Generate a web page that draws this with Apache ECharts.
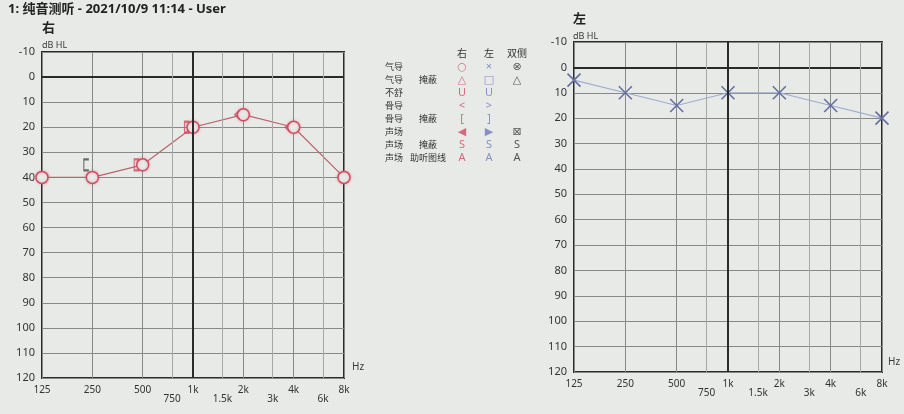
<!DOCTYPE html>
<html>
<head>
<meta charset="utf-8">
<style>
  html, body { margin:0; padding:0; background:#e8eae8; }
  #chart { width:904px; height:414px; }
</style>
<script src="https://cdn.jsdelivr.net/npm/echarts@6.0.0/dist/echarts.min.js"></script>
</head>
<body>
<div id="chart"></div>
<script>
/* Pure-tone audiogram, right ear (red circles) and left ear (blue crosses).
   Frequency runs on an octave scale, dB HL grows downward. */
(function(){
  var FREQS        = [125, 250, 500, 1000, 2000, 4000, 8000];
  var FREQ_LABELS  = ['125', '250', '500', '1k', '2k', '4k', '8k'];
  var HALF_FREQS   = [750, 1500, 3000, 6000];
  var HALF_LABELS  = ['750', '1.5k', '3k', '6k'];

  var RIGHT_AIR         = [40, 40, 35, 20, 15, 20, 40];
  var RIGHT_BONE_FREQS  = [250, 500, 1000];     // masked bone "["
  var RIGHT_BONE        = [35, 35, 20];
  var RIGHT_BONE2_FREQS = [2000, 4000];         // bone "<"
  var RIGHT_BONE2       = [15, 20];
  var LEFT_AIR          = [5, 10, 15, 10, 10, 15, 20];

  var DB_MIN = -10, DB_MAX = 120, DB_STEP = 10;

  var LEGEND_ROWS  = [['气导',''],['气导','掩蔽'],['不舒',''],['骨导',''],['骨导','掩蔽'],['声场',''],['声场','掩蔽'],['声场','助听图线']];
  var LEGEND_RIGHT = ['○','△','U','<','[','◀','S','A'];
  var LEGEND_LEFT  = ['×','□','U','>',']','▶','S','A'];
  var LEGEND_BOTH  = ['⊗','△','','','','⊠','S','A'];

  var FONT = "'Noto Sans', 'DejaVu Sans', 'Noto Sans CJK SC', sans-serif";
  var BG = '#e8eae8';
  var RED = '#cc4e60', RED_LINE = '#b8666d';
  var BLUE = '#66709f', BLUE_LINE = '#9cadd0';
  var GRIDC = '#878988', HALFC = '#a6a8a7', DARK = '#2a2a2a';

  function oct(f){ return Math.log2(f / FREQS[0]); }
  var XMAX = oct(FREQS[FREQS.length - 1]);

  function xAxes(gi){
    return [{
      gridIndex:gi, type:'value', min:0, max:XMAX, interval:1,
      axisLine:{show:false}, axisTick:{show:false},
      splitLine:{show:true, lineStyle:{color:GRIDC, width:1}},
      axisLabel:{ margin:7, fontSize:10, color:'#333', fontFamily:FONT,
        formatter:function(v){ return FREQ_LABELS[Math.round(v)] || ''; } }
    },{
      gridIndex:gi, type:'value', min:0, max:XMAX, position:'bottom',
      axisLine:{show:false}, axisTick:{show:false}, splitLine:{show:false},
      axisLabel:{ margin:16, fontSize:10, color:'#333', fontFamily:FONT,
        customValues:HALF_FREQS.map(oct),
        formatter:function(v){
          for(var i=0;i<HALF_FREQS.length;i++){ if(Math.abs(oct(HALF_FREQS[i]) - v) < 1e-6) return HALF_LABELS[i]; }
          return '';
        } }
    }];
  }

  function yAxis(gi){
    return {
      gridIndex:gi, type:'value', inverse:true, min:DB_MIN, max:DB_MAX, interval:DB_STEP,
      axisLine:{show:false}, axisTick:{show:false},
      splitLine:{show:true, lineStyle:{color:GRIDC, width:1}},
      axisLabel:{ margin:7, fontSize:11, color:'#333', fontFamily:FONT }
    };
  }

  function gridLines(xi, yi){
    var thick = {color:DARK, width:2, type:'solid'};
    var data = [{yAxis:0, lineStyle:thick}, {xAxis:oct(1000), lineStyle:thick}];
    HALF_FREQS.forEach(function(f){ data.push({xAxis:oct(f), lineStyle:{color:HALFC, width:1, type:'solid'}}); });
    return {
      type:'line', xAxisIndex:xi, yAxisIndex:yi, data:[], z:1, silent:true,
      markLine:{ silent:true, symbol:['none','none'], label:{show:false}, animation:false, data:data }
    };
  }

  function pts(freqs, vals){ return freqs.map(function(f, i){ return [oct(f), vals[i]]; }); }

  var X_PATH = 'path://M0,0L10,10M10,0L0,10';
  var BRACKET_PATH = 'path://M4,0L0,0L0,10L4,10';
  var LT_PATH = 'path://M5,0L0,5L5,10';

  var bracketData = pts(RIGHT_BONE_FREQS, RIGHT_BONE).map(function(p, i){
    var item = {value:p};
    if(RIGHT_BONE_FREQS[i] === 250) item.itemStyle = {borderColor:'#4a4a4a'};
    return item;
  });

  var graphic = [
    {type:'text', left:8, top:3, style:{text:'1: 纯音测听 - 2021/10/9 11:14 - User', font:'bold 13px '+FONT, fill:'#222'}},
    {type:'text', left:42, top:22, style:{text:'右', font:'bold 13px '+FONT, fill:'#222'}},
    {type:'text', left:573, top:13, style:{text:'左', font:'bold 13px '+FONT, fill:'#222'}},
    {type:'text', left:42, top:41, style:{text:'dB HL', font:'9px '+FONT, fill:'#3a3a3a'}},
    {type:'text', left:573, top:32, style:{text:'dB HL', font:'9px '+FONT, fill:'#3a3a3a'}},
    {type:'text', left:352, top:362, style:{text:'Hz', font:'10px '+FONT, fill:'#3a3a3a'}},
    {type:'text', left:888, top:357, style:{text:'Hz', font:'10px '+FONT, fill:'#3a3a3a'}}
  ];

  var LX = 385, LX2 = 428, CR = 462, CL = 489, CB = 517, HY = 54, RY0 = 67, RDY = 13;
  function ltxt(x, y, t, color, size, align){
    return {type:'text', x:x, y:y, style:{text:t, font:(size||9)+'px '+FONT, fill:color||'#333',
      align:align||'center', verticalAlign:'middle'}};
  }
  graphic.push(ltxt(CR, HY, '右', '#333', 10), ltxt(CL, HY, '左', '#333', 10), ltxt(CB, HY, '双侧', '#333', 10));
  LEGEND_ROWS.forEach(function(r, i){
    var y = RY0 + i * RDY;
    graphic.push(ltxt(LX, y, r[0], '#333', 9, 'left'));
    if(r[1]) graphic.push(ltxt(LX2, y, r[1], '#333', 9));
    graphic.push(ltxt(CR, y, LEGEND_RIGHT[i], '#d46a7a', 11));
    graphic.push(ltxt(CL, y, LEGEND_LEFT[i], '#8690c4', 11));
    if(LEGEND_BOTH[i]) graphic.push(ltxt(CB, y, LEGEND_BOTH[i], '#555', 11));
  });

  var chart = echarts.init(document.getElementById('chart'), null, {renderer:'canvas'});
  chart.setOption({
    backgroundColor:BG,
    animation:false,
    grid:[
      {left:42, top:52, right:560, bottom:36, show:true, borderColor:DARK, borderWidth:2, backgroundColor:'transparent'},
      {left:574, top:42, right:22, bottom:42, show:true, borderColor:DARK, borderWidth:2, backgroundColor:'transparent'}
    ],
    xAxis: xAxes(0).concat(xAxes(1)),
    yAxis: [yAxis(0), yAxis(1)],
    graphic: graphic,
    series:[
      gridLines(0, 0),
      gridLines(2, 1),
      {
        name:'右 骨导掩蔽', type:'scatter', xAxisIndex:0, yAxisIndex:0, z:4,
        symbol:BRACKET_PATH, symbolSize:[5, 11], symbolKeepAspect:false, symbolOffset:[-6, 0],
        itemStyle:{color:'rgba(0,0,0,0)', borderColor:RED, borderWidth:1.6},
        data:bracketData
      },
      {
        name:'右 骨导', type:'scatter', xAxisIndex:0, yAxisIndex:0, z:4,
        symbol:LT_PATH, symbolSize:[5, 9], symbolKeepAspect:false, symbolOffset:[-6, 0],
        itemStyle:{color:'rgba(0,0,0,0)', borderColor:RED, borderWidth:1.4},
        data:pts(RIGHT_BONE2_FREQS, RIGHT_BONE2)
      },
      {
        name:'右 气导', type:'line', xAxisIndex:0, yAxisIndex:0, z:3,
        symbol:'circle', symbolSize:12, showAllSymbol:true,
        lineStyle:{color:RED_LINE, width:1.2},
        itemStyle:{color:BG, borderColor:RED, borderWidth:1.5, shadowBlur:3, shadowColor:'rgba(230,90,110,0.45)'},
        data:pts(FREQS, RIGHT_AIR)
      },
      {
        name:'左 气导', type:'line', xAxisIndex:2, yAxisIndex:1, z:3,
        symbol:X_PATH, symbolSize:13, showAllSymbol:true,
        lineStyle:{color:BLUE_LINE, width:1.2},
        itemStyle:{color:'rgba(0,0,0,0)', borderColor:BLUE, borderWidth:1.6},
        data:pts(FREQS, LEFT_AIR)
      }
    ]
  });

  window.addEventListener('resize', function(){ chart.resize(); });
})();
</script>
</body>
</html>
